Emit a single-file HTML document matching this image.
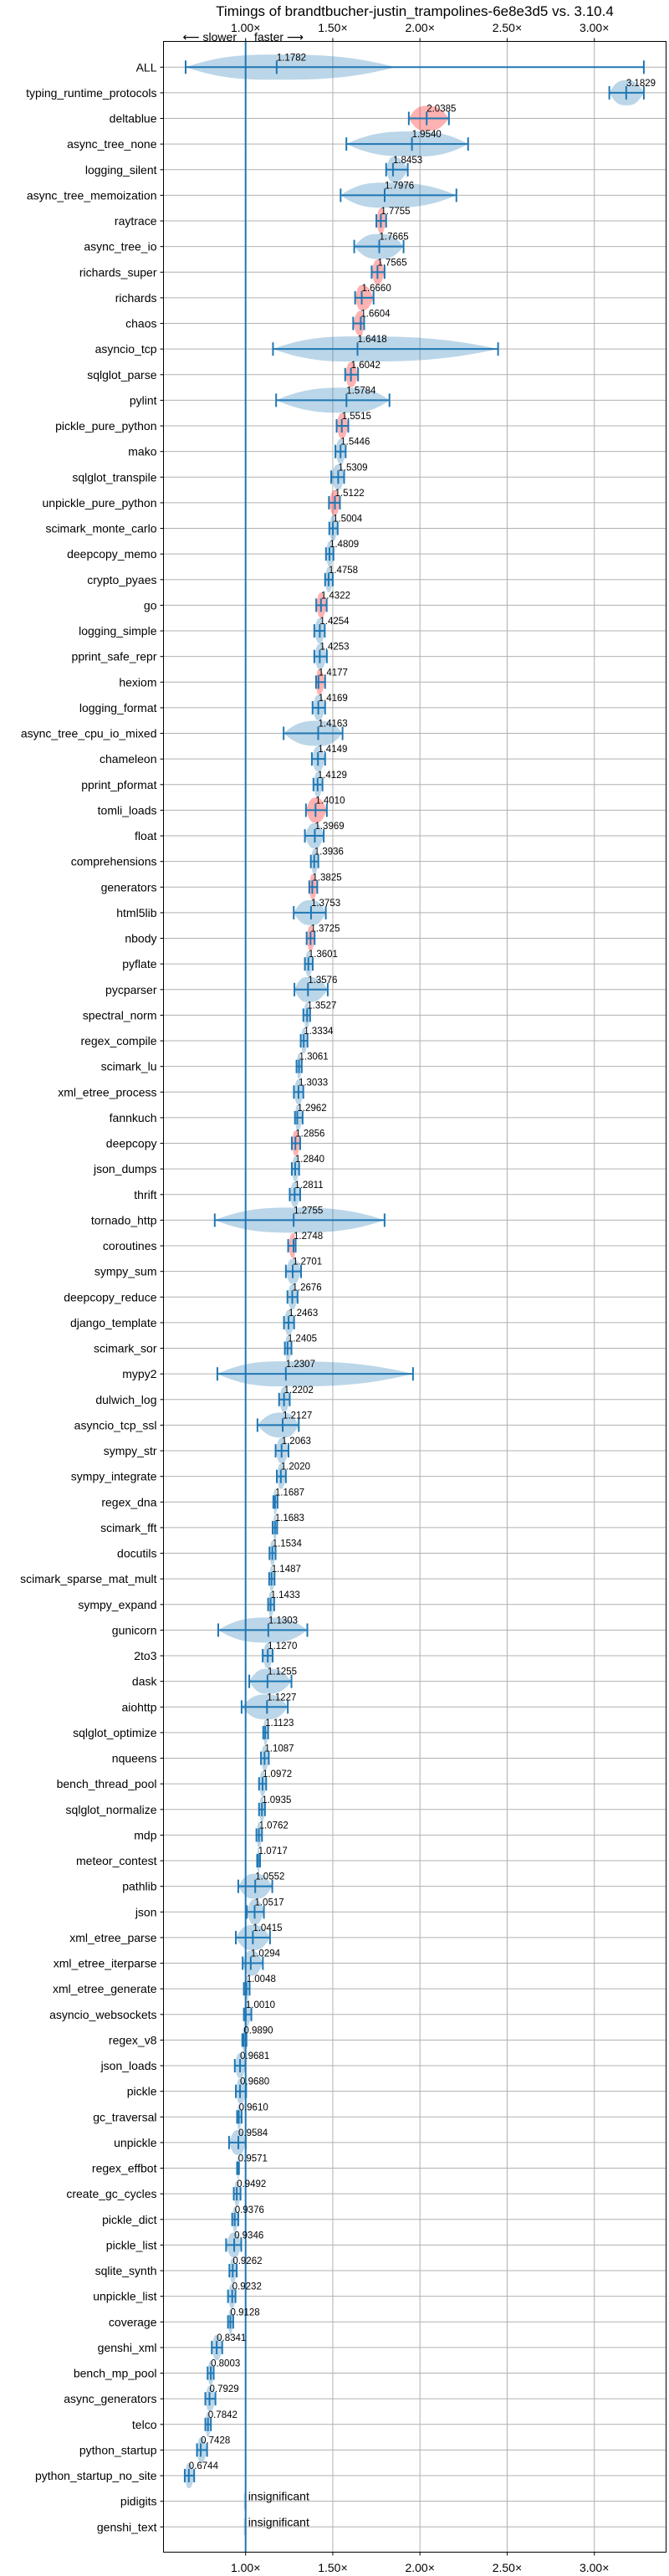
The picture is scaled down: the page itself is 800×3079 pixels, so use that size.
<!DOCTYPE html>
<html><head><meta charset="utf-8"><title>Timings</title>
<style>
html,body{margin:0;padding:0;background:#fff;}
svg{display:block;font-family:"Liberation Sans","DejaVu Sans",sans-serif;}
</style></head>
<body>
<svg id="chart" width="800" height="3079" viewBox="0 0 800 3079" xmlns="http://www.w3.org/2000/svg">
<rect x="0" y="0" width="800" height="3079" fill="#fff"/>
<text x="496" y="19" font-size="17" text-anchor="middle" fill="#000">Timings of brandtbucher-justin_trampolines-6e8e3d5 vs. 3.10.4</text>
<text x="283" y="49" font-size="14" text-anchor="end" fill="#000">⟵ slower</text>
<text x="304" y="49" font-size="14" text-anchor="start" fill="#000">faster ⟶</text>
<g id="grid"></g>
<g id="marks"></g>
<g id="labels"></g>
<rect x="195.5" y="49.5" width="601" height="3001" fill="none" stroke="#000" stroke-width="1"/>
</svg>
<script>
const categories = ["ALL","typing_runtime_protocols","deltablue","async_tree_none","logging_silent","async_tree_memoization","raytrace","async_tree_io","richards_super","richards","chaos","asyncio_tcp","sqlglot_parse","pylint","pickle_pure_python","mako","sqlglot_transpile","unpickle_pure_python","scimark_monte_carlo","deepcopy_memo","crypto_pyaes","go","logging_simple","pprint_safe_repr","hexiom","logging_format","async_tree_cpu_io_mixed","chameleon","pprint_pformat","tomli_loads","float","comprehensions","generators","html5lib","nbody","pyflate","pycparser","spectral_norm","regex_compile","scimark_lu","xml_etree_process","fannkuch","deepcopy","json_dumps","thrift","tornado_http","coroutines","sympy_sum","deepcopy_reduce","django_template","scimark_sor","mypy2","dulwich_log","asyncio_tcp_ssl","sympy_str","sympy_integrate","regex_dna","scimark_fft","docutils","scimark_sparse_mat_mult","sympy_expand","gunicorn","2to3","dask","aiohttp","sqlglot_optimize","nqueens","bench_thread_pool","sqlglot_normalize","mdp","meteor_contest","pathlib","json","xml_etree_parse","xml_etree_iterparse","xml_etree_generate","asyncio_websockets","regex_v8","json_loads","pickle","gc_traversal","unpickle","regex_effbot","create_gc_cycles","pickle_dict","pickle_list","sqlite_synth","unpickle_list","coverage","genshi_xml","bench_mp_pool","async_generators","telco","python_startup","python_startup_no_site","pidigits","genshi_text"];
const medians = [1.1782,3.1829,2.0385,1.9540,1.8453,1.7976,1.7755,1.7665,1.7565,1.6660,1.6604,1.6418,1.6042,1.5784,1.5515,1.5446,1.5309,1.5122,1.5004,1.4809,1.4758,1.4322,1.4254,1.4253,1.4177,1.4169,1.4163,1.4149,1.4129,1.4010,1.3969,1.3936,1.3825,1.3753,1.3725,1.3601,1.3576,1.3527,1.3334,1.3061,1.3033,1.2962,1.2856,1.2840,1.2811,1.2755,1.2748,1.2701,1.2676,1.2463,1.2405,1.2307,1.2202,1.2127,1.2063,1.2020,1.1687,1.1683,1.1534,1.1487,1.1433,1.1303,1.1270,1.1255,1.1227,1.1123,1.1087,1.0972,1.0935,1.0762,1.0717,1.0552,1.0517,1.0415,1.0294,1.0048,1.0010,0.9890,0.9681,0.9680,0.9610,0.9584,0.9571,0.9492,0.9376,0.9346,0.9262,0.9232,0.9128,0.8341,0.8003,0.7929,0.7842,0.7428,0.6744,null,null];
const mins = [0.656,3.086,1.936,1.578,1.806,1.545,1.750,1.623,1.723,1.628,1.617,1.157,1.571,1.175,1.522,1.515,1.491,1.478,1.480,1.461,1.456,1.405,1.394,1.394,1.404,1.384,1.218,1.380,1.389,1.346,1.340,1.374,1.365,1.276,1.350,1.340,1.280,1.331,1.316,1.292,1.277,1.283,1.265,1.265,1.253,0.823,1.244,1.231,1.240,1.220,1.225,0.838,1.192,1.068,1.172,1.179,1.159,1.155,1.137,1.135,1.129,0.843,1.098,1.021,0.977,1.101,1.088,1.077,1.077,1.062,1.066,0.958,1.007,0.944,0.983,0.990,0.990,0.981,0.938,0.944,0.951,0.905,0.951,0.932,0.923,0.888,0.907,0.899,0.899,0.806,0.782,0.769,0.769,0.721,0.651,null,null];
const maxs = [3.284,3.284,2.166,2.276,1.930,2.209,1.806,1.906,1.797,1.734,1.680,2.448,1.645,1.825,1.589,1.574,1.565,1.541,1.528,1.504,1.500,1.465,1.454,1.466,1.456,1.456,1.556,1.456,1.441,1.466,1.448,1.417,1.411,1.460,1.396,1.385,1.471,1.370,1.355,1.322,1.331,1.327,1.313,1.307,1.313,1.797,1.287,1.318,1.298,1.278,1.263,1.960,1.253,1.305,1.246,1.231,1.183,1.181,1.172,1.166,1.164,1.354,1.155,1.263,1.242,1.129,1.133,1.118,1.111,1.094,1.083,1.153,1.105,1.140,1.099,1.023,1.033,1.005,0.999,1.003,0.977,1.001,0.962,0.971,0.958,0.975,0.949,0.942,0.929,0.866,0.817,0.827,0.801,0.779,0.705,null,null];
const violinHi = [1.86];
const regressed = ["deltablue","raytrace","richards_super","richards","chaos","sqlglot_parse","pickle_pure_python","unpickle_pure_python","go","hexiom","tomli_loads","generators","nbody","deepcopy","coroutines"];
const xTicks = [1.0,1.5,2.0,2.5,3.0];
const xTickLabels = ["1.00×","1.50×","2.00×","2.50×","3.00×"];

const NS = "http://www.w3.org/2000/svg";
const X0 = 195.5, X1 = 796.5, Y0 = 49.5, Y1 = 3050.5;
function xs(v){ return 293.7 + (v - 1) * 208.5; }
function ys(i){ return 80.3 + i * 30.625; }
function mk(tag, attrs, parent){
  const e = document.createElementNS(NS, tag);
  for (const k in attrs) e.setAttribute(k, attrs[k]);
  parent.appendChild(e);
  return e;
}
const grid = document.getElementById('grid');
const marks = document.getElementById('marks');
const labels = document.getElementById('labels');

xTicks.forEach((t, k) => {
  const x = xs(t);
  const g = mk('line', {x1:x, x2:x, y1:Y0, y2:Y1, stroke:'#b0b0b0', 'stroke-width':1}, grid);
  
  
  const tt = mk('line', {x1:x, x2:x, y1:Y0-4, y2:Y0, stroke:'#000', 'stroke-width':1}, grid);
  
  
  const tb = mk('line', {x1:x, x2:x, y1:Y1, y2:Y1+4, stroke:'#000', 'stroke-width':1}, grid);
  
  
  const l1 = mk('text', {x:x, y:38, 'font-size':14, 'text-anchor':'middle', fill:'#000'}, labels);
  l1.textContent = xTickLabels[k];
  
  
  const l2 = mk('text', {x:x, y:3074, 'font-size':14, 'text-anchor':'middle', fill:'#000'}, labels);
  l2.textContent = xTickLabels[k];
  
  
});

function lens(lo, md, hi, y, h){
  return 'M' + lo + ',' + y +
    ' C' + (lo + (md-lo)*0.4) + ',' + (y-h) + ' ' + (md - (md-lo)*0.3) + ',' + (y-h) + ' ' + md + ',' + (y-h) +
    ' C' + (md + (hi-md)*0.3) + ',' + (y-h) + ' ' + (hi - (hi-md)*0.4) + ',' + (y-h) + ' ' + hi + ',' + y +
    ' C' + (hi - (hi-md)*0.4) + ',' + (y+h) + ' ' + (md + (hi-md)*0.3) + ',' + (y+h) + ' ' + md + ',' + (y+h) +
    ' C' + (md - (md-lo)*0.3) + ',' + (y+h) + ' ' + (lo + (md-lo)*0.4) + ',' + (y+h) + ' ' + lo + ',' + y + ' Z';
}

categories.forEach((c, i) => {
  const y = ys(i);
  const hg = mk('line', {x1:X0, x2:X1, y1:y, y2:y, stroke:'#b0b0b0', 'stroke-width':1}, grid);
  
  
  const tk = mk('line', {x1:X0-4, x2:X0, y1:y, y2:y, stroke:'#000', 'stroke-width':1}, grid);
  
  
  const yl = mk('text', {x:X0-8, y:y+5, 'font-size':14, 'text-anchor':'end', fill:'#000'}, labels);
  yl.textContent = c;
  
  

  const m = medians[i];
  if (m === null) {
    const r = mk('rect', {x:xs(1)-2, y:y-10, width:3, height:20, fill:'#1f77b4', 'fill-opacity':0.3}, marks);
    
    
    const it = mk('text', {x:xs(1)+3, y:y-1, 'font-size':14, fill:'#000'}, labels);
    it.textContent = 'insignificant';
    
    
    return;
  }
  const lo = xs(mins[i]), hi = xs(maxs[i]), md = xs(m);
  const vhi = (violinHi[i] !== undefined && violinHi[i] !== null) ? xs(violinHi[i]) : hi;
  const red = regressed.indexOf(c) >= 0;
  const v = mk('path', {d:lens(lo, md, vhi, y, 15), fill: red ? '#ff0000' : '#1f77b4', 'fill-opacity':0.3, stroke:'none'}, marks);
  
  
  const ln = mk('line', {x1:lo, x2:hi, y1:y, y2:y, stroke:'#1f77b4', 'stroke-width':2}, marks);
  
  
  [lo, md, hi].forEach((xx) => {
    const cap = mk('line', {x1:xx, x2:xx, y1:y-8, y2:y+8, stroke:'#1f77b4', 'stroke-width':2}, marks);
    
    
  });
  const vt = mk('text', {x:md, y:y-8, 'font-size':11.5, fill:'#000'}, labels);
  vt.textContent = m.toFixed(4);
  
  
});

const bl = mk('line', {x1:xs(1), x2:xs(1), y1:Y0, y2:Y1, stroke:'#1f77b4', 'stroke-width':2}, marks);


</script>
</body></html>
